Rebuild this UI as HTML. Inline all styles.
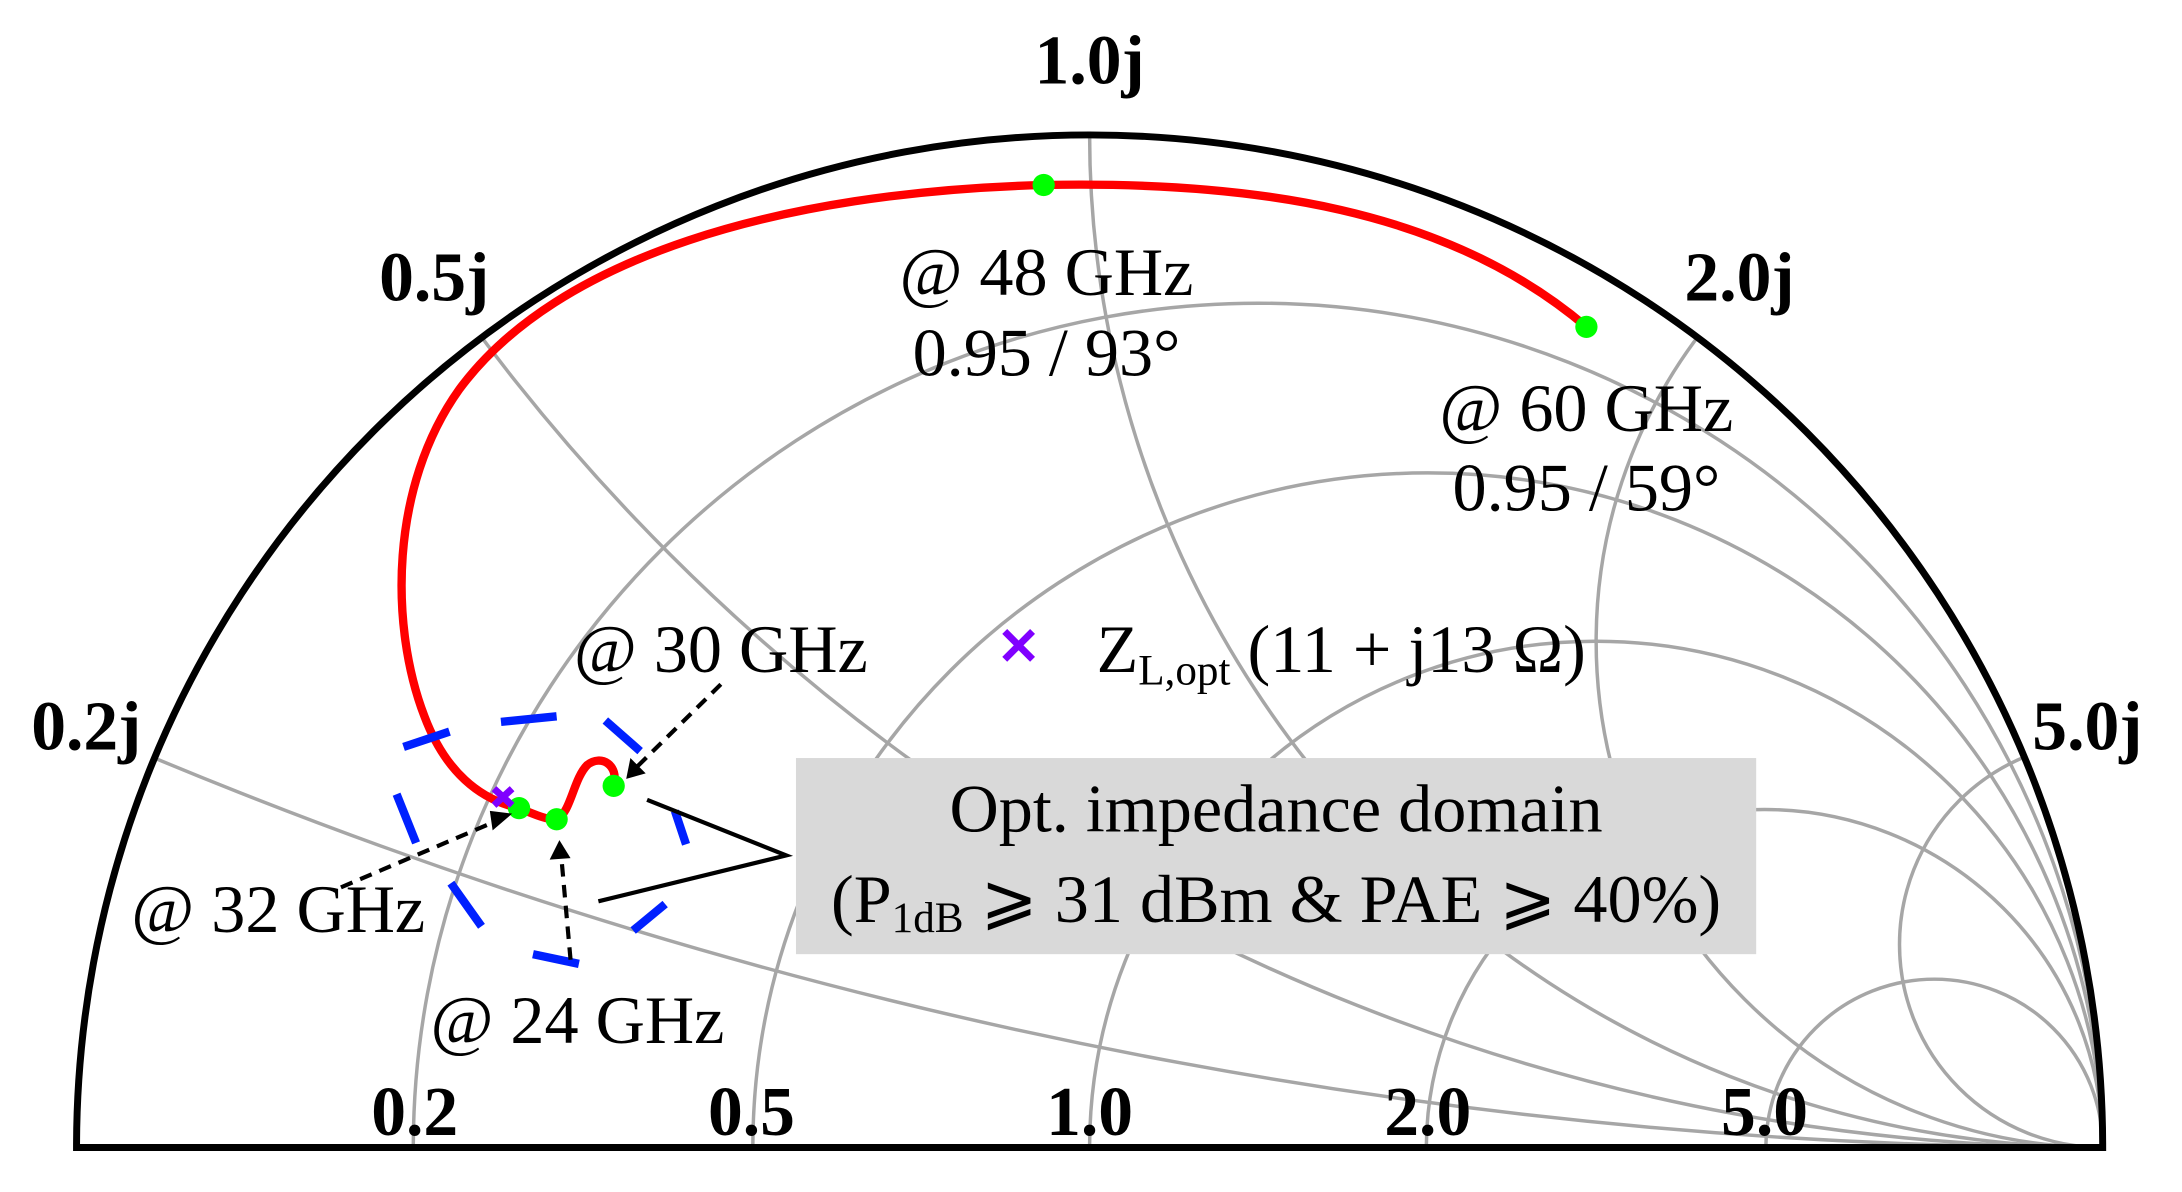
<!DOCTYPE html>
<html><head><meta charset="utf-8"><style>html,body{margin:0;padding:0;background:#fff;overflow:hidden;width:2182px;height:1192px}svg{display:block}</style></head>
<body>
<svg width="2182" height="1192" viewBox="0 0 1568 857" preserveAspectRatio="none" xmlns="http://www.w3.org/2000/svg" font-family="'Liberation Serif', serif">
<defs><clipPath id="c"><path d="M55 825 A728 728 0 0 1 1511 825 Z"/></clipPath></defs>
<g clip-path="url(#c)" fill="none" stroke="#a6a6a6" stroke-width="2.5">
<circle cx="904" cy="825" r="607"/>
<circle cx="1026" cy="825" r="485"/>
<circle cx="1147" cy="825" r="364"/>
<circle cx="1268" cy="825" r="243"/>
<circle cx="1390" cy="825" r="121"/>
<circle cx="1511" cy="-2815" r="3640"/>
<circle cx="1511" cy="-631" r="1456"/>
<circle cx="1511" cy="97" r="728"/>
<circle cx="1511" cy="461" r="364"/>
<circle cx="1511" cy="679" r="146"/>
</g>
<path d="M55 825 A728 728 0 0 1 1511 825 Z" fill="none" stroke="#000" stroke-width="5"/>
<g font-weight="bold" font-size="50" text-anchor="middle">
<text x="783" y="60">1.0j</text>
<text x="312" y="216">0.5j</text>
<text x="1250" y="216">2.0j</text>
<text x="62" y="539">0.2j</text>
<text x="1500" y="539">5.0j</text>
<text x="298" y="816">0.2</text>
<text x="540" y="816">0.5</text>
<text x="783" y="816">1.0</text>
<text x="1026" y="816">2.0</text>
<text x="1268" y="816">5.0</text>
</g>
<path d="M1140 235 C1040 150 900 130 750 133 C560 138 400 185 330 280 C280 350 280 450 305 515 C320 555 345 575 373 581 C385 586 395 590 400 589 C410 585 412 560 422 550 C432 542 445 550 441 565" fill="none" stroke="#f00" stroke-width="6"/>
<g fill="#0f0"><circle cx="750" cy="133" r="8"/><circle cx="1140" cy="235" r="8"/><circle cx="373" cy="581" r="8"/><circle cx="400" cy="589" r="8"/><circle cx="441" cy="565" r="8"/></g>
<g stroke="#8000ff" stroke-width="5"><path d="M722 454 L742 474 M742 454 L722 474"/><path d="M355 567 L368 579 M368 567 L355 579"/></g>
<g stroke="#0020ff" stroke-width="6" stroke-linecap="butt">
<path d="M290 537 L323 526"/><path d="M360 519 L400 515"/><path d="M435 518 L460 540"/><path d="M485 583 L493 607"/><path d="M455 669 L478 650"/><path d="M383 686 L416 693"/><path d="M324 635 L346 666"/><path d="M285 571 L299 606"/>
</g>
<path d="M465 575 L565 615 L430 648" fill="none" stroke="#000" stroke-width="3"/>
<rect x="572" y="545" width="690" height="141" fill="#d9d9d9"/>
<g font-size="49" text-anchor="middle">
<text x="917" y="598">Opt. impedance domain</text>
<text x="917" y="663">(P<tspan font-size="31" dy="7">1dB</tspan><tspan dy="-7"> ⩾ 31 dBm &amp; PAE ⩾ 40%)</tspan></text>
<text x="752" y="212">@ 48 GHz</text>
<text x="752" y="270">0.95 / 93°</text>
<text x="1140" y="310">@ 60 GHz</text>
<text x="1140" y="367">0.95 / 59°</text>
<text x="518" y="483">@ 30 GHz</text>
<text x="200" y="670">@ 32 GHz</text>
<text x="415" y="750">@ 24 GHz</text>
</g>
<text x="788" y="483" font-size="49">Z<tspan font-size="31" dy="9">L,opt</tspan><tspan dy="-9"> (11 + j13 Ω)</tspan></text>
<g stroke="#000" stroke-width="3" stroke-dasharray="9 6" fill="none">
<path d="M518 492 L455 554"/><path d="M245 638 L362 588"/><path d="M410 690 L403 612"/>
</g>
<g fill="#000"><path d="M450 560 L453 545 L464 556 Z"/><path d="M368 585 L354 597 L352 583 Z"/><path d="M402 604 L395 618 L410 617 Z"/></g>
</svg>
</body></html>
